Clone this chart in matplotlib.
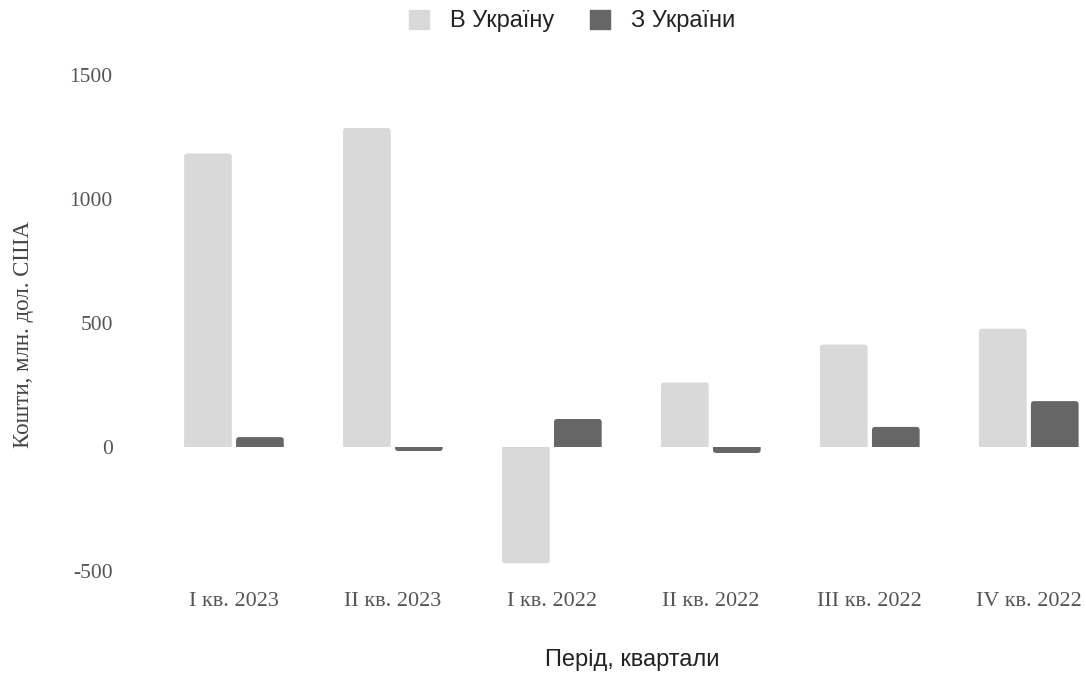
import numpy as np
import matplotlib.pyplot as plt
from matplotlib.patches import FancyBboxPatch, Rectangle, Patch

periods = ['I кв. 2023', 'II кв. 2023', 'I кв. 2022', 'II кв. 2022', 'III кв. 2022', 'IV кв. 2022']
to_ukraine = [1183, 1286, -469, 260, 413, 477]
from_ukraine = [40, -16, 113, -24, 81, 185]
yticks = [-500, 0, 500, 1000, 1500]

light, dark = '#d9d9d9', '#666666'

W, H = 1086, 679
fig = plt.figure(figsize=(W / 100, H / 100), dpi=100)
# axes placed in pixel terms
left, right, top, bottom = 160, 1086, 60, 580
ax = fig.add_axes([left / W, 1 - bottom / H, (right - left) / W, (bottom - top) / H])

x = np.arange(len(periods))
bw = 0.30
off = 0.1635
b1 = ax.bar(x - off, to_ukraine, bw, color=light)
b2 = ax.bar(x + off, from_ukraine, bw, color=dark)

ax.set_xlim(-0.465, 5.36)
ax.set_ylim(-536, 1560)

# swap bars for ones with rounded outer ends, square at the zero line
rx = 0.02
aspect = 640
ry = rx * aspect
for bars in (b1, b2):
    for r in bars:
        bx, by, w, h = r.get_x(), r.get_y(), r.get_width(), r.get_height()
        col = r.get_facecolor()
        r.set_visible(False)
        if h >= 0:
            y0, y1 = by - 2 * ry, by + h
            clip = Rectangle((bx - 1, by), w + 2, 1e5, transform=ax.transData)
        else:
            y0, y1 = by + h, by + 2 * ry
            clip = Rectangle((bx - 1, by - 1e5), w + 2, 1e5, transform=ax.transData)
        p = FancyBboxPatch((bx, y0), w, y1 - y0,
                           boxstyle=f'round,pad=0,rounding_size={rx}',
                           mutation_aspect=aspect, fc=col, ec='none')
        ax.add_patch(p)
        p.set_clip_path(clip)

for s in ax.spines.values():
    s.set_visible(False)

ax.set_yticks(yticks)
ax.set_yticklabels([str(v) for v in yticks], family='Liberation Serif', fontsize=15.5, color='#555555')
ax.tick_params(axis='y', length=0, pad=34)
ax.set_xticks(x)
ax.set_xticklabels(periods, family='Liberation Serif', fontsize=16, color='#555555')
ax.tick_params(axis='x', length=0, pad=9)

ax.set_xlabel('Перід, квартали', family='Liberation Sans', fontsize=17, color='#222222')
ax.xaxis.set_label_coords((632 - left) / (right - left), 1 - (649 - top) / (bottom - top))
ax.set_ylabel('Кошти, млн. дол. США', family='Liberation Serif', fontsize=16.5, color='#444444')
ax.yaxis.set_label_coords(-126 / (right - left), 1 - (335 - top) / (bottom - top))

handles = [Patch(color=light, label='В Україну'), Patch(color=dark, label='З України')]
fig.legend(handles=handles, loc='center', bbox_to_anchor=(572 / W, 1 - 21 / H), ncol=2, frameon=False,
           prop={'family': 'Liberation Sans', 'size': 17}, handlelength=0.85, handleheight=0.85,
           columnspacing=1.5, handletextpad=0.9, labelcolor='#222222')

fig.savefig('out.png', dpi=100)
